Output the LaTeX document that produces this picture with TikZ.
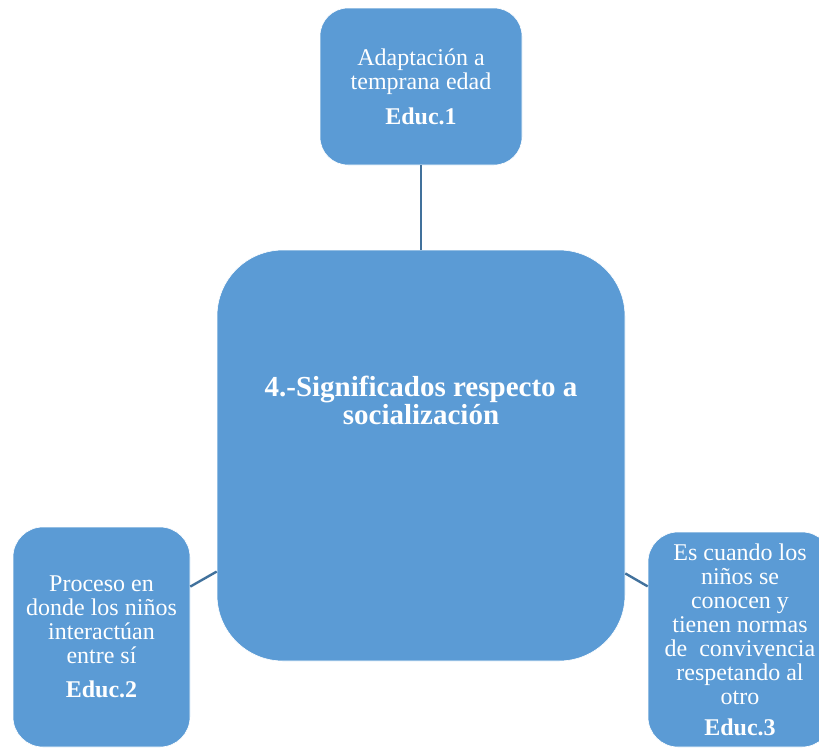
\documentclass[tikz,border=0pt]{standalone}
\usepackage{fontspec}
\setmainfont{Liberation Serif}
\usepackage{tikz}
\usetikzlibrary{positioning}

\definecolor{boxblue}{HTML}{5B9BD5}
\definecolor{lineblue}{HTML}{41719C}

\begin{document}
\begin{tikzpicture}[x=1pt, y=-1pt,
        box/.style={rounded corners=#1, fill=boxblue, draw=white, line width=0.6pt,
            text=white, align=center, inner sep=0pt,
            font=\fontsize{24}{24}\selectfont},
        box/.default=30pt,
        link/.style={draw=lineblue, line width=2.4pt}]
    \useasboundingbox (0,0) rectangle (819,748);
    \clip (0,0) rectangle (819,748);
        % centre box and its title
        \node [box=66pt, minimum width=408pt, minimum height=411pt] (hub) at (421,455.5) {};
        \node [text=white, align=center, font=\fontsize{29}{28}\selectfont\bfseries, yshift=55pt]
            (title) at (hub.center) {4.-Significados respecto a\\socialización};
        % the three answers
        \node [box=28pt, minimum width=202pt, minimum height=157pt] (educ1) at (421,86.5)
            {Adaptación a\\temprana edad\\[11pt]\textbf{Educ.1}};
        \node [box, minimum width=177pt, minimum height=220pt] (educ2) at (101.5,637)
            {Proceso en\\donde los niños\\interactúan\\entre sí\\[10pt]\textbf{Educ.2}};
        \node [box, minimum width=184pt, minimum height=215pt] (educ3) at (740,639.5)
            {Es cuando los\\niños se\\conocen y\\tienen normas\\de~~convivencia\\respetando al\\otro\\[7pt]\textbf{Educ.3}};
        \draw [link] (hub) -- (educ1);
        \draw [link] (hub) -- (educ2);
        \draw [link] (hub) -- (educ3);
    \end{tikzpicture}
\end{document}
